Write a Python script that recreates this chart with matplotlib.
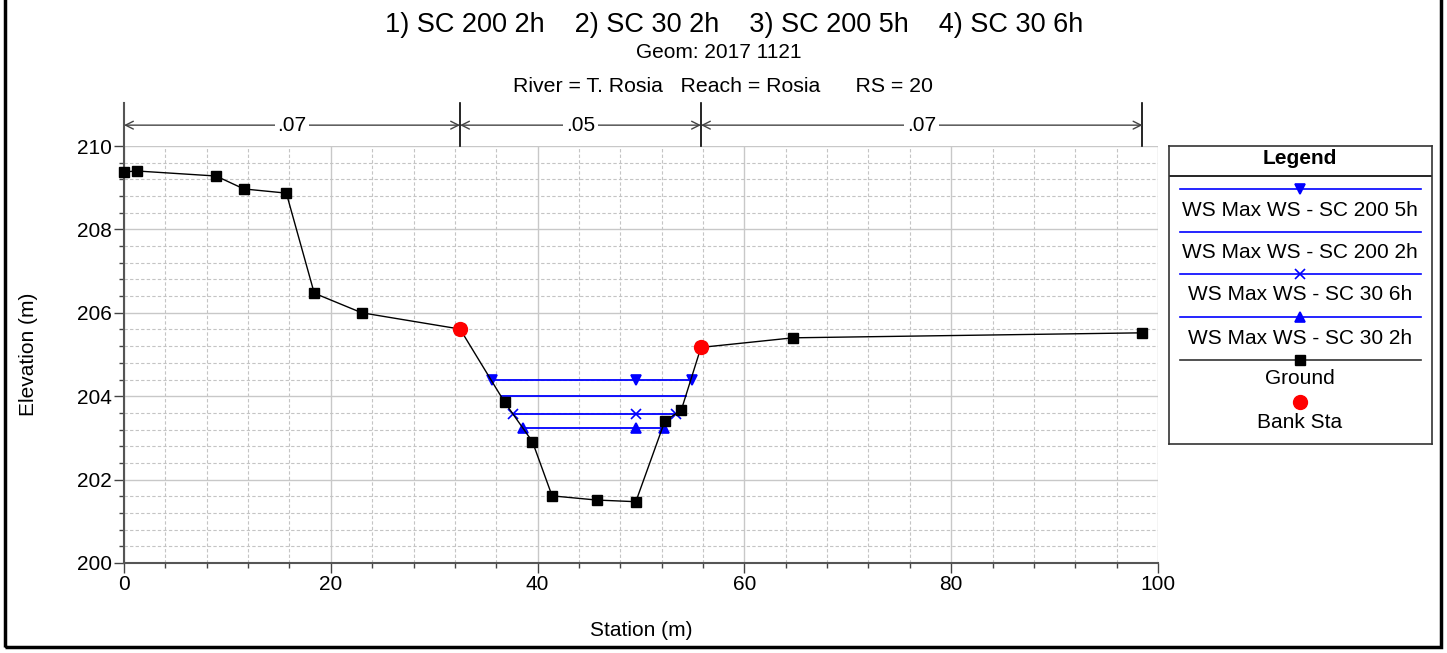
import matplotlib
matplotlib.use("Agg")
import matplotlib.pyplot as plt
from matplotlib.patches import Rectangle
from matplotlib.ticker import MultipleLocator

plt.rcParams["font.family"] = ["Liberation Sans", "DejaVu Sans"]

# cross section ground points (station m, elevation m)
ground_sta = [0.0, 1.3, 8.9, 11.6, 15.7, 18.4, 23.0, 32.5, 36.8, 39.5, 41.4,
              45.7, 49.5, 52.3, 53.9, 55.8, 64.7, 98.5]
ground_elev = [209.38, 209.40, 209.28, 208.97, 208.87, 206.47, 206.00, 205.61,
               203.86, 202.91, 201.61, 201.51, 201.47, 203.40, 203.67, 205.17,
               205.40, 205.52]

bank_sta = [32.5, 55.8]
bank_elev = [205.61, 205.17]

# max water surface per plan
ws_names = ["WS Max WS - SC 200 5h", "WS Max WS - SC 200 2h",
            "WS Max WS - SC 30 6h", "WS Max WS - SC 30 2h"]
ws_elev = [204.39, 204.00, 203.58, 203.24]
ws_sta = [[35.6, 49.5, 54.9], [36.5, 54.4], [37.65, 49.5, 53.4], [38.6, 49.5, 52.2]]
ws_marker = ["v", None, "x", "^"]

# manning's n regions
n_breaks = [0.0, 32.5, 55.8, 98.5]
n_values = [".07", ".05", ".07"]

W, H = 1447, 653
fig = plt.figure(figsize=(W / 100, H / 100), dpi=100)

def fx(px):
    return px / W

def fy(py):
    return 1 - py / H

ax = fig.add_axes([fx(124), fy(563), fx(1158) - fx(124), fy(146) - fy(563)])
ax.set_xlim(0, 100)
ax.set_ylim(200, 210)
ax.xaxis.set_major_locator(MultipleLocator(20))
ax.xaxis.set_minor_locator(MultipleLocator(4))
ax.yaxis.set_major_locator(MultipleLocator(2))
ax.yaxis.set_minor_locator(MultipleLocator(0.4))
ax.grid(which="major", color="#c8c8c8", lw=1.0, ls="-")
ax.grid(which="minor", color="#c4c4c4", lw=0.8, ls=(0, (3, 2)))
ax.set_axisbelow(True)
for s in ["top", "right", "left"]:
    ax.spines[s].set_visible(False)
ax.spines["bottom"].set_color("#555555")
ax.spines["bottom"].set_linewidth(1.5)
ax.tick_params(which="major", length=7, width=1, color="#444444", labelsize=15, pad=2)
ax.tick_params(which="minor", length=3.6, width=1, color="#444444")
ax.set_xlabel("Station (m)", fontsize=15, labelpad=19)
ax.set_ylabel("Elevation (m)", fontsize=15, labelpad=28)

# left axis line runs up through the n-value band
ax.plot([0, 0], [200, 211.03], color="#555555", lw=1.5, clip_on=False, zorder=3)

for i, v in enumerate(n_values):
    a, b = n_breaks[i], n_breaks[i + 1]
    ax.annotate("", xy=(a, 210.5), xytext=(b, 210.5), annotation_clip=False,
                arrowprops=dict(arrowstyle="<->", color="#444444", lw=1,
                                shrinkA=0, shrinkB=0, mutation_scale=14))
    ax.text((a + b) / 2, 210.5, v, ha="center", va="center", fontsize=15,
            bbox=dict(facecolor="white", edgecolor="none", pad=2), clip_on=False)
for b in n_breaks[1:]:
    ax.plot([b, b], [210, 211.03], color="black", lw=1.2, clip_on=False)

for name, z, sta, m in zip(ws_names, ws_elev, ws_sta, ws_marker):
    ax.plot(sta, [z] * len(sta), color="#0000ff", lw=1.3, marker=m, ms=7,
            mew=1.2, zorder=4)

ax.plot(ground_sta, ground_elev, color="black", lw=1, marker="s", ms=7, zorder=5,
        clip_on=False)
ax.plot(bank_sta, bank_elev, ls="none", marker="o", color="#ff0000", ms=10, zorder=6)

# titles
fig.text(fx(734), fy(32), "1) SC 200 2h    2) SC 30 2h    3) SC 200 5h    4) SC 30 6h",
         ha="center", va="baseline", fontsize=19.5)
fig.text(fx(719), fy(58), "Geom: 2017 1121", ha="center", va="baseline", fontsize=15)
fig.text(fx(723), fy(92), "River = T. Rosia   Reach = Rosia      RS = 20",
         ha="center", va="baseline", fontsize=15.3)

# legend panel
lax = fig.add_axes([fx(1169), fy(444), fx(1432) - fx(1169), fy(146) - fy(444)])
lax.set_xlim(1169, 1432)
lax.set_ylim(444, 146)
lax.set_xticks([])
lax.set_yticks([])
for s in lax.spines.values():
    s.set_color("#333333")
    s.set_linewidth(1.2)
lax.text(1300, 159, "Legend", ha="center", va="center", fontsize=15, fontweight="bold")
lax.plot([1169, 1432], [176, 176], color="black", lw=1.2)
row_y = [189, 232, 274, 317]
for name, m, ly in zip(ws_names, ws_marker, row_y):
    lax.plot([1180, 1421], [ly, ly], color="#0000ff", lw=1.2)
    if m:
        lax.plot([1300], [ly], marker=m, color="#0000ff", ms=7, mew=1.2)
    lax.text(1300, ly + 21, name, ha="center", va="center", fontsize=15)
lax.plot([1180, 1421], [360, 360], color="#333333", lw=1.2)
lax.plot([1300], [360], marker="s", color="black", ms=7)
lax.text(1300, 379, "Ground", ha="center", va="center", fontsize=15)
lax.plot([1300], [402], marker="o", color="#ff0000", ms=10)
lax.text(1300, 422, "Bank Sta", ha="center", va="center", fontsize=15)

# outer frame
fig.add_artist(Rectangle((fx(5), fy(647)), fx(1441) - fx(5), fy(-10) - fy(647),
                         transform=fig.transFigure, fill=False, edgecolor="black",
                         lw=2.5, clip_on=False))

fig.savefig("out.png", dpi=100)
